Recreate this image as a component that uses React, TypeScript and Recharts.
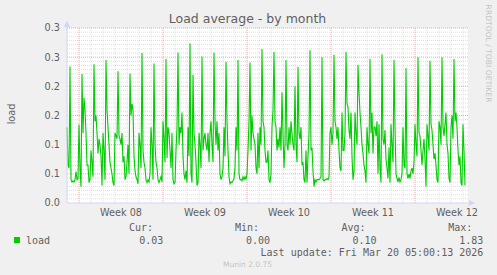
import { LineChart, Line, XAxis, YAxis, CartesianGrid } from 'recharts';

// one sample every 2 hours, hours counted from Mon 16 Feb 2026 00:00
const firstHour = -24;
const stepHours = 2;

// Sun 15 Feb
const week07 = [0.13, 0.065, 0.06, 0.234, 0.04, 0.036, 0.038, 0.036, 0.04, 0.054, 0.04, 0.042];

const week08 = [
  0.134, 0.06, 0.028, 0.221, 0.12, 0.18, 0.16, 0.12, 0.065, 0.065, 0.035, 0.04,
  0.09, 0.07, 0.045, 0.238, 0.14, 0.15, 0.12, 0.085, 0.11, 0.1, 0.08, 0.03,
  0.12, 0.09, 0.04, 0.245, 0.16, 0.13, 0.1, 0.07, 0.06, 0.05, 0.035, 0.03,
  0.12, 0.115, 0.11, 0.226, 0.115, 0.11, 0.1, 0.12, 0.07, 0.08, 0.04, 0.045,
  0.07, 0.1, 0.05, 0.222, 0.15, 0.17, 0.16, 0.08, 0.055, 0.045, 0.04, 0.033,
  0.12, 0.1, 0.06, 0.257, 0.09, 0.07, 0.06, 0.04, 0.035, 0.04, 0.036, 0.05,
  0.13, 0.1, 0.04, 0.239, 0.1, 0.07, 0.06, 0.04, 0.035, 0.04, 0.045, 0.036,
];

const week09 = [
  0.14, 0.11, 0.07, 0.247, 0.077, 0.13, 0.12, 0.09, 0.06, 0.12, 0.04, 0.033,
  0.035, 0.09, 0.13, 0.258, 0.1, 0.13, 0.12, 0.155, 0.08, 0.05, 0.04, 0.055,
  0.035, 0.13, 0.08, 0.274, 0.05, 0.035, 0.22, 0.12, 0.1, 0.07, 0.03, 0.035,
  0.12, 0.1, 0.06, 0.251, 0.09, 0.11, 0.12, 0.1, 0.09, 0.12, 0.07, 0.12,
  0.14, 0.1, 0.07, 0.258, 0.14, 0.1, 0.14, 0.09, 0.12, 0.05, 0.04, 0.045,
  0.06, 0.13, 0.08, 0.242, 0.14, 0.09, 0.045, 0.033, 0.036, 0.035, 0.038, 0.042,
  0.06, 0.13, 0.09, 0.245, 0.05, 0.04, 0.04, 0.038, 0.045, 0.04, 0.045, 0.04,
];

const week10 = [
  0.05, 0.09, 0.14, 0.241, 0.09, 0.15, 0.12, 0.11, 0.1, 0.06, 0.05, 0.12,
  0.06, 0.13, 0.1, 0.264, 0.14, 0.13, 0.09, 0.07, 0.07, 0.09, 0.04, 0.035,
  0.05, 0.13, 0.16, 0.259, 0.14, 0.13, 0.09, 0.11, 0.095, 0.13, 0.09, 0.19,
  0.12, 0.06, 0.1, 0.245, 0.1, 0.09, 0.13, 0.1, 0.14, 0.12, 0.1, 0.09,
  0.2, 0.1, 0.07, 0.233, 0.12, 0.11, 0.13, 0.065, 0.07, 0.04, 0.035, 0.09,
  0.035, 0.08, 0.12, 0.262, 0.09, 0.095, 0.055, 0.028, 0.04, 0.036, 0.04, 0.04,
  0.04, 0.042, 0.045, 0.25, 0.04, 0.038, 0.04, 0.04, 0.042, 0.04, 0.045, 0.12,
];

const week11 = [
  0.13, 0.1, 0.12, 0.254, 0.14, 0.13, 0.11, 0.13, 0.09, 0.06, 0.055, 0.155,
  0.09, 0.09, 0.12, 0.259, 0.17, 0.165, 0.125, 0.11, 0.155, 0.08, 0.04, 0.055,
  0.155, 0.12, 0.1, 0.237, 0.19, 0.155, 0.13, 0.1, 0.085, 0.065, 0.055, 0.035,
  0.13, 0.1, 0.085, 0.247, 0.12, 0.155, 0.085, 0.13, 0.13, 0.115, 0.14, 0.05,
  0.135, 0.06, 0.035, 0.255, 0.11, 0.1, 0.125, 0.075, 0.06, 0.042, 0.095, 0.035,
  0.135, 0.1, 0.07, 0.245, 0.13, 0.05, 0.042, 0.036, 0.044, 0.036, 0.04, 0.05,
  0.13, 0.065, 0.06, 0.231, 0.05, 0.042, 0.05, 0.042, 0.055, 0.06, 0.05, 0.07,
];

// Mon 16 Mar .. Fri 20 Mar 04:00
const week12 = [
  0.135, 0.1, 0.08, 0.25, 0.12, 0.115, 0.09, 0.065, 0.09, 0.11, 0.075, 0.028,
  0.135, 0.115, 0.09, 0.244, 0.135, 0.125, 0.1, 0.075, 0.085, 0.065, 0.04, 0.035,
  0.14, 0.13, 0.1, 0.25, 0.13, 0.115, 0.135, 0.155, 0.1, 0.085, 0.042, 0.035,
  0.13, 0.15, 0.11, 0.247, 0.14, 0.155, 0.13, 0.09, 0.065, 0.08, 0.035, 0.03,
  0.135, 0.09, 0.03,
];

const loadValues = [...week07, ...week08, ...week09, ...week10, ...week11, ...week12];
const data = loadValues.map((v, i) => ({ h: firstHour + i * stepHours, load: v }));

const weekTicks = [84, 252, 420, 588, 756];
const weekLabels = ['Week 08', 'Week 09', 'Week 10', 'Week 11', 'Week 12'];
const weekStarts = [0, 168, 336, 504, 672];
const loadTicks = [0, 0.05, 0.1, 0.15, 0.2, 0.25, 0.3];
const loadLabels = ['0.0', '0.1', '0.1', '0.2', '0.2', '0.3', '0.3'];

const dayLines: number[] = [];
for (let h = 0; h <= 768; h += 24) if (!weekStarts.includes(h)) dayLines.push(h);
const minorY: number[] = [];
for (let k = 1; k < 42; k++) if (k % 7 !== 0) minorY.push((k * 0.05) / 7);
const majorY = loadTicks.slice(1);

const sans = "'DejaVu Sans', sans-serif";
const mono = "'DejaVu Sans Mono', monospace";
const fontColor = '#5f5f5f';
const axisColor = '#cfd6f8';

export default function App() {
  return (
    <div style={{ position: 'absolute', left: 0, top: 0, width: 497, height: 275, background: '#f0f0f0', overflow: 'hidden' }}>
      <LineChart width={497} height={275} data={data} margin={{ top: 28, right: 29, bottom: 52, left: 0 }}>
        <CartesianGrid fill="#ffffff" stroke="#dedede" strokeDasharray="1 1" horizontalValues={minorY} verticalValues={dayLines} />
        <CartesianGrid fill="none" stroke="#e6acac" strokeDasharray="1 1" horizontalValues={majorY} verticalValues={weekStarts} />
        <XAxis
          dataKey="h"
          type="number"
          domain={[-24, 778]}
          ticks={weekTicks}
          interval={0}
          tickFormatter={(v) => weekLabels[weekTicks.indexOf(v)]}
          tickSize={0}
          tickMargin={6}
          height={20}
          axisLine={{ stroke: axisColor }}
          tick={{ fill: fontColor, fontSize: 9.7, fontFamily: sans }}
        />
        <YAxis
          type="number"
          domain={[0, 0.3]}
          ticks={loadTicks}
          interval={0}
          tickFormatter={(v) => loadLabels[loadTicks.indexOf(v)]}
          tickSize={0}
          tickMargin={7}
          width={67}
          axisLine={{ stroke: axisColor }}
          tick={{ fill: fontColor, fontSize: 9.7, fontFamily: sans }}
        />
        <Line type="linear" dataKey="load" stroke="#00cc00" strokeWidth={1.1} dot={false} isAnimationActive={false} />
      </LineChart>
      <svg width={497} height={275} style={{ position: 'absolute', left: 0, top: 0, pointerEvents: 'none' }}>
        <line x1={67} y1={28} x2={67} y2={24} stroke={axisColor} />
        <polygon points="64,27 70,27 67,20.5" fill={axisColor} />
        <line x1={468} y1={203} x2={470} y2={203} stroke={axisColor} />
        <polygon points="469,200 469,206 475,203" fill={axisColor} />
        <text x={247.5} y={22.6} textAnchor="middle" fontSize={12.5} fontFamily={sans} fill={fontColor}>
          Load average - by month
        </text>
        <text transform="translate(15,114) rotate(-90)" textAnchor="middle" fontSize={9.7} fontFamily={sans} fill={fontColor}>
          load
        </text>
        <text transform="translate(486,53.5) rotate(90)" textAnchor="middle" fontSize={7.6} fontFamily={sans} fill="#c4c4c4">
          RRDTOOL / TOBI OETIKER
        </text>
        <g fontFamily={mono} fontSize={10} fill={fontColor}>
          <text x={153} y={231} textAnchor="end">Cur:</text>
          <text x={259} y={231} textAnchor="end">Min:</text>
          <text x={365.6} y={231} textAnchor="end">Avg:</text>
          <text x={472.3} y={231} textAnchor="end">Max:</text>
          <rect x={14} y={237} width={6} height={6} fill="#00cc00" />
          <text x={26} y={243.5}>load</text>
          <text x={163.3} y={243.5} textAnchor="end">0.03</text>
          <text x={270} y={243.5} textAnchor="end">0.00</text>
          <text x={376.6} y={243.5} textAnchor="end">0.10</text>
          <text x={483.3} y={243.5} textAnchor="end">1.83</text>
          <text x={483.3} y={256} textAnchor="end">Last update: Fri Mar 20 05:00:13 2026</text>
        </g>
        <text x={247.5} y={266.8} textAnchor="middle" fontSize={7.5} fontFamily={sans} fill="#c4c4c4">
          Munin 2.0.75
        </text>
      </svg>
    </div>
  );
}
